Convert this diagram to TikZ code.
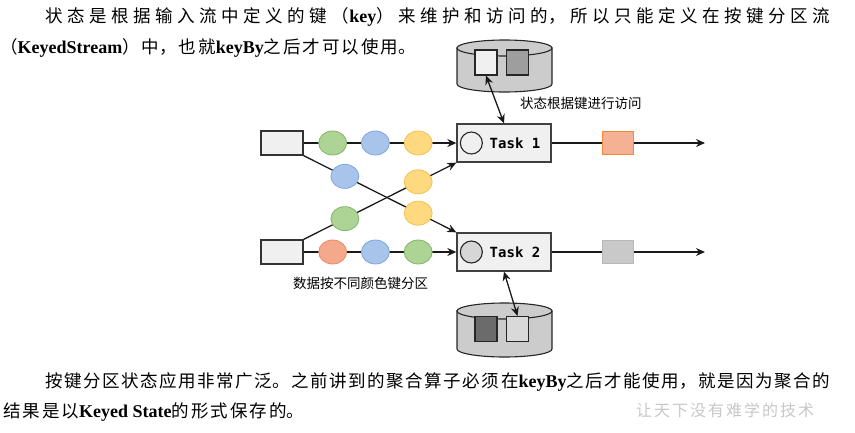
\documentclass[tikz,border=0pt]{standalone}
\usepackage{fontspec}
\setmainfont{Noto Sans CJK SC}
\newfontfamily\latfont{Liberation Serif}
\newfontfamily\taskfont{DejaVu Sans Mono}
\usepackage{xcolor}
\usepackage{tikz}
\usetikzlibrary{arrows.meta, positioning, shapes.geometric}

\XeTeXlinebreaklocale "zh"
\XeTeXlinebreakskip=0pt plus 1pt\relax

\definecolor{grnfill}{HTML}{AED495}
\definecolor{grnline}{HTML}{82B366}
\definecolor{blufill}{HTML}{A9C4EB}
\definecolor{bluline}{HTML}{7EA6E0}
\definecolor{ylwfill}{HTML}{FFD97F}
\definecolor{ylwline}{HTML}{F2C14E}
\definecolor{redfill}{HTML}{F4A88C}
\definecolor{redline}{HTML}{E9896A}
\definecolor{orgfill}{HTML}{F5B193}
\definecolor{orgline}{HTML}{F08A3A}

\newcommand{\keyw}[1]{{\latfont\bfseries\fontsize{18}{20}\selectfont #1}}
\newcommand{\bodyfont}{\fontsize{17.5}{20}\selectfont\XeTeXlinebreakskip=2pt plus 1pt\relax}
\newcommand{\markfont}{\fontsize{16}{18}\selectfont\XeTeXlinebreakskip=2pt plus 1pt\relax}
% one line of body text, filled out to the full width or left as it is
\newcommand{\fullline}[1]{\parbox[t]{785pt}{\XeTeXlinebreakskip=0pt plus 2pt\relax
  \noindent\parfillskip=0pt #1}}
\newcommand{\lastline}[1]{\parbox[t]{600pt}{\noindent #1}}

\begin{document}
\begin{tikzpicture}[x=1pt, y=-1pt,
  body/.style  = {anchor=base west, inner sep=0pt, font=\bodyfont},
  src/.style   = {draw=black!80, fill=black!6, line width=1.3pt,
                  minimum width=42pt, minimum height=24pt, inner sep=0pt},
  task/.style  = {draw=black!75, fill=black!6, line width=1.3pt,
                  minimum width=94pt, minimum height=38pt, inner sep=0pt},
  tasktxt/.style = {font=\taskfont\bfseries\fontsize{14}{16}\selectfont, inner sep=0pt},
  slot/.style  = {circle, draw=black!85, line width=1.1pt,
                  minimum size=22pt, inner sep=0pt},
  dot/.style   = {ellipse, line width=0.8pt, minimum width=28pt,
                  minimum height=24pt, inner sep=0pt},
  grn/.style   = {dot, draw=grnline, fill=grnfill},
  blu/.style   = {dot, draw=bluline, fill=blufill},
  ylw/.style   = {dot, draw=ylwline, fill=ylwfill},
  rdd/.style   = {dot, draw=redline, fill=redfill},
  outbox/.style = {minimum width=31pt, minimum height=23pt, inner sep=0pt,
                   line width=1pt},
  dbbody/.style = {draw=black!85, fill=black!20, line width=1.1pt},
  cell/.style  = {draw=black!85, line width=1.1pt, minimum width=22pt,
                  minimum height=25pt, inner sep=0pt},
  flow/.style  = {-{Stealth[length=9pt,width=8pt]}, line width=1.3pt, black!90},
  dbl/.style   = {{Stealth[length=9pt,width=8pt]}-{Stealth[length=9pt,width=8pt]},
                  line width=1.3pt, black!90},
  lbl/.style   = {font=\fontsize{13.5}{16}\selectfont, inner sep=0pt},
]
\useasboundingbox (0,0) rectangle (855,432);

%% text above
\node[body] (p1) at (45,22) {\fullline{状态是根据输入流中定义的键（\keyw{key}）来维护和访问的，所以只能定义在按键分区流}};
\node[body] (p2) at (0,53) {\lastline{（\keyw{KeyedStream}）中，也就\keyw{keyBy}之后才可以使用。}};

%% state store 1
\filldraw[dbbody] (457,48) -- (457,84)
  arc[start angle=180, end angle=0, x radius=47.5, y radius=8] -- (552,48) -- cycle;
\filldraw[dbbody] (504.5,48) ellipse[x radius=47.5, y radius=8];
\node[cell, fill=black!6]  (s1a) at (486,62.5) {};
\node[cell, fill=black!38] (s1b) at (517.5,62.5) {};

%% state store 2
\filldraw[dbbody] (457,311) -- (457,349)
  arc[start angle=180, end angle=0, x radius=47.5, y radius=8] -- (552,311) -- cycle;
\filldraw[dbbody] (504.5,311) ellipse[x radius=47.5, y radius=8];
\node[cell, fill=black!58] (s2a) at (486,329) {};
\node[cell, fill=black!15] (s2b) at (517.5,329) {};

%% sources and tasks
\node[src]  (src1)  at (282,143) {};
\node[src]  (src2)  at (282,252) {};
\node[task] (task1) at (504,143) {};
\node[task] (task2) at (504,252) {};
\node[slot, fill=black!6]  (c1) at ([xshift=15pt]task1.west) {};
\node[slot, fill=black!16] (c2) at ([xshift=15pt]task2.west) {};
\node[tasktxt] (t1) at ([xshift=11pt]task1.center) {Task 1};
\node[tasktxt] (t2) at ([xshift=11pt]task2.center) {Task 2};

%% keyed records
\draw[flow] (src1) -- (task1)
  node[grn, pos=.19] (r11) {} node[blu, pos=.47] (r12) {} node[ylw, pos=.75] (r13) {};
\draw[flow] (src2) -- (task2)
  node[rdd, pos=.19] (r21) {} node[blu, pos=.47] (r22) {} node[grn, pos=.75] (r23) {};
\draw[flow] (src1.south east) -- (task2.north west)
  node[blu, pos=.27] (x11) {} node[ylw, pos=.75] (x12) {};
\draw[flow] (src2.north east) -- (task1.south west)
  node[grn, pos=.27] (x21) {} node[ylw, pos=.75] (x22) {};

%% outputs
\coordinate (end1) at (705,143);
\coordinate (end2) at (705,252);
\draw[flow] (task1) -- (end1)
  node[outbox, pos=.43, draw=orgline, fill=orgfill] (o1) {};
\draw[flow] (task2) -- (end2)
  node[outbox, pos=.43, draw=black!28, fill=black!21] (o2) {};

%% state access
\draw[dbl] (s1a.south) -- (task1.north);
\draw[dbl] (task2.south) -- (s2b.north);

\node[lbl, anchor=west] (l1) at (520,103) {状态根据键进行访问};
\node[lbl, anchor=west] (l2) at (293,283) {数据按不同颜色键分区};

%% text below
\node[body] (p3) at (45,387) {\fullline{按键分区状态应用非常广泛。之前讲到的聚合算子必须在\keyw{keyBy}之后才能使用，就是因为聚合的}};
\node[body] (p4) at (3,417) {\lastline{结果是以\keyw{Keyed State}的形式保存的。}};
\node[body, text=black!22, font=\markfont] (wm) at (636,416) {\lastline{让天下没有难学的技术}};

\end{tikzpicture}
\end{document}
